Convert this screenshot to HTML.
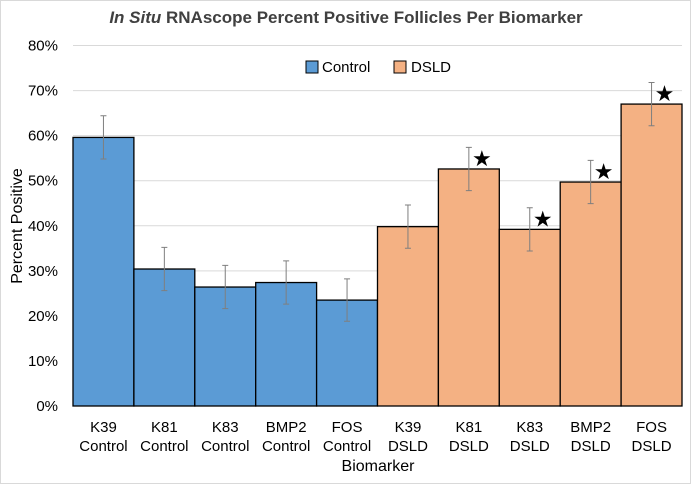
<!DOCTYPE html>
<html><head><meta charset="utf-8"><style>
body{margin:0;background:#fff;}
svg{display:block;font-family:"Liberation Sans",sans-serif;}
</style></head><body>
<svg id="c" width="693" height="487">
<rect x="0.5" y="0.5" width="690" height="483" fill="#fff" stroke="#d9d9d9"/>
<text x="346" y="23" text-anchor="middle" font-size="17" font-weight="bold" fill="#404040"><tspan font-style="italic">In Situ</tspan> RNAscope Percent Positive Follicles Per Biomarker</text>
<g id="grid"></g><g id="bars"></g><g id="xl"></g>
<text transform="translate(22,226) rotate(-90)" text-anchor="middle" font-size="16" fill="#000">Percent Positive</text>
<text x="378" y="471" text-anchor="middle" font-size="16" fill="#000">Biomarker</text>
<g>
<rect x="306" y="61" width="12" height="12" fill="#5b9bd5" stroke="#000"/>
<text x="322" y="72" font-size="15" fill="#000">Control</text>
<rect x="394" y="61" width="12" height="12" fill="#f4b183" stroke="#000"/>
<text x="411" y="72" font-size="15" fill="#000">DSLD</text>
</g>
</svg>
<script>
const cats1=["K39","K81","K83","BMP2","FOS","K39","K81","K83","BMP2","FOS"];
const cats2=["Control","Control","Control","Control","Control","DSLD","DSLD","DSLD","DSLD","DSLD"];
const values=[59.6,30.4,26.4,27.4,23.5,39.8,52.6,39.2,49.7,67.0];
const errors=[4.8,4.8,4.8,4.8,4.7,4.8,4.8,4.8,4.8,4.8];
const stars=[false,false,false,false,false,false,true,true,true,true];
const ticks=[0,10,20,30,40,50,60,70,80];
const NS="http://www.w3.org/2000/svg";
const x0=73,x1=682,y0=406,yTop=45.5,ymax=80;
const bw=(x1-x0)/values.length;
const y=v=>y0-(v/ymax)*(y0-yTop);
const x=i=>x0+i*bw;
function mk(t,a,p){const e=document.createElementNS(NS,t);for(const k in a)e.setAttribute(k,a[k]);p.appendChild(e);return e;}
const g=document.getElementById('grid');
ticks.forEach(t=>{
 const l=mk('line',{x1:x0,x2:x1,y1:y(t),y2:y(t),stroke:t===0?'#bfbfbf':'#d9d9d9','stroke-width':1},g);
 
 
 const tx=mk('text',{x:58,y:y(t)+5,'text-anchor':'end','font-size':15,fill:'#000'},g);
 tx.textContent=t+'%';
 
 
});
const b=document.getElementById('bars');
values.forEach((v,i)=>{
 const r=mk('rect',{x:x(i),y:y(v),width:bw,height:y0-y(v),fill:i<5?'#5b9bd5':'#f4b183',stroke:'#000','stroke-width':1.3},b);
 
 
 const cx=x(i)+bw/2,e=errors[i];
 const eb=mk('path',{d:`M${cx},${y(v+e)}V${y(v-e)}M${cx-3},${y(v+e)}H${cx+3}M${cx-3},${y(v-e)}H${cx+3}`,stroke:'#7f7f7f','stroke-width':1,fill:'none'},b);
 
 
 if(stars[i]){
  const s=mk('text',{x:cx+13,y:y(v)-3,'text-anchor':'middle','font-size':22,fill:'#000'},b);
  s.textContent='★';
  
  
 }
 const xl=document.getElementById('xl');
 const t1=mk('text',{x:cx,y:432,'text-anchor':'middle','font-size':15,fill:'#000'},xl);
 t1.textContent=cats1[i];
 
 
 const t2=mk('text',{x:cx,y:451,'text-anchor':'middle','font-size':15,fill:'#000'},xl);
 t2.textContent=cats2[i];
 
 
});
</script>
</body></html>
